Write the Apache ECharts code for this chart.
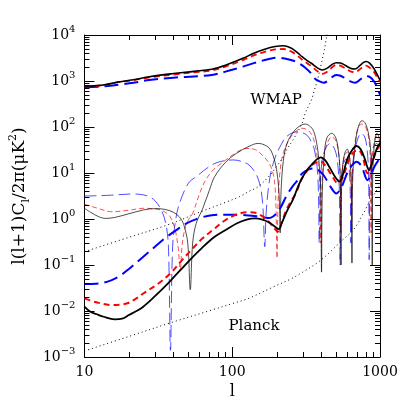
<!DOCTYPE html>
<html>
<head>
<meta charset="utf-8">
<script src="https://cdn.jsdelivr.net/npm/echarts@6/dist/echarts.min.js"></script>
<style>
html, body { margin: 0; padding: 0; background: #fff; }
#chart { width: 415px; height: 415px; }
</style>
</head>
<body>
<div id="chart"></div>
<script>
// [l, value] pairs
const ttBlack = [[10,780],[13,810],[17,950],[22,1080],[27.5,1240],[40,1450],[55,1620],[72.6,1800],[90,2200],[118,3110],[140,4000],[166,4890],[195,5600],[222,5850],[250,5200],[275,4200],[297,3370],[320,2800],[343,2430],[375,1950],[407,1740],[440,1900],[475,2300],[506,2500],[540,2450],[580,2200],[630,1900],[678,1820],[730,2150],[770,2500],[805,2650],[850,2450],[907,1900],[950,1450],[1000,1050]];
const ttRed = [[10,780],[13,800],[17,940],[22,1060],[27.5,1200],[40,1380],[55,1540],[72.6,1700],[90,2050],[118,2850],[140,3600],[166,4300],[195,4850],[222,4960],[250,4400],[275,3600],[297,2900],[320,2450],[343,2100],[375,1650],[407,1430],[440,1600],[475,2000],[506,2230],[540,2150],[580,1900],[630,1620],[678,1545],[730,1800],[770,2050],[805,2150],[850,1950],[907,1600],[950,1250],[1000,950]];
const ttBlue = [[10,730],[13,760],[17,830],[22,930],[27.5,1050],[40,1180],[55,1260],[72.6,1350],[90,1600],[118,2050],[140,2450],[166,2850],[190,3150],[206,3210],[230,3050],[260,2750],[282,2430],[312,1950],[343,1450],[360,1150],[390,980],[417,920],[450,1050],[480,1250],[506,1350],[540,1300],[580,1150],[630,980],[678,920],[740,1100],[803,1285],[860,1200],[907,1000],[950,760],[1000,500]];

const eeBlack = [[10,0.0124],[10.9,0.0097],[12,0.0086],[13.5,0.0075],[16,0.0066],[18,0.0068],[20,0.0082],[22.5,0.0100],[25,0.0124],[30,0.021],[34,0.031],[38.6,0.047],[44.7,0.078],[51.6,0.128],[62,0.23],[76,0.41],[92,0.6],[107,0.8],[125,0.97],[143,1.03],[160,0.97],[174,0.87],[190,0.72],[201,0.63],[207,0.6],[216,0.8],[235,1.5],[257,2.6],[275,4.5],[292,7.0],[320,11.5],[350,16],[375,20],[398,21.9],[425,19],[460,12.6],[500,8],[532,6.5],[560,9],[600,20],[650,32],[695,38.6],[740,33],[790,20],[843,11.6],[880,16],[920,25],[960,36],[1000,45]];
const eeRed = [[10,0.0188],[12,0.0155],[15.3,0.0135],[17.5,0.0138],[19.5,0.0147],[22,0.018],[25,0.024],[31.8,0.04],[38,0.065],[45,0.12],[54,0.23],[63,0.38],[75,0.6],[90,0.95],[107,1.25],[125,1.4],[140,1.38],[158,1.18],[180,0.82],[195,0.6],[203,0.53],[212,0.7],[235,1.7],[269,3.6],[297,7.7],[340,14],[370,17],[398,17.6],[430,14],[470,9],[519,6],[560,8],[610,18],[660,28],[713,31.6],[760,24],[824,9.8],[870,14],[920,24],[977,37],[1000,40]];
const eeBlue = [[10,0.0386],[12,0.039],[15.3,0.047],[18,0.063],[20,0.082],[24.9,0.15],[30,0.25],[35,0.38],[42,0.58],[49,0.8],[60,1.05],[72.6,1.2],[90,1.24],[118,1.22],[145,1.15],[166,1.08],[178,1.05],[190,1.15],[201,1.38],[215,1.9],[233,3.2],[257,5.2],[282,7.5],[297,9.8],[330,12],[360,12.6],[390,11],[420,8.5],[460,5.2],[506,3.6],[550,5],[600,10],[650,15],[695,17.6],[750,14],[824,7],[870,9.5],[930,15],[1000,21]];

const teBlack = [[10,1.71],[11,1.4],[12.5,1.12],[13.9,1.03],[16,1.08],[20,1.3],[25,1.57],[30,1.68],[35,1.62],[40,1.4],[44,1.1],[47,0.75],[50,0.3],[52,0.029],[54,0.3],[57,0.8],[62.7,1.6],[70,4.2],[76,8.3],[90,17],[107,26.8],[130,38],[150,44],[170,39],[182,31.6],[195,17],[203,8],[208,3],[211,0.5],[214,4],[222,19],[235,44],[260,79],[290,108],[312,116],[340,100],[360,73],[380,30],[390,12],[397,4],[402,0.07],[407,4],[420,25],[437,58],[471,73],[500,60],[520,35],[535,13],[541,4],[545,0.1],[549,4],[560,16],[580,28],[600,33],[620,24],[635,10],[642,3],[646,0.11],[650,3],[660,15],[690,60],[720,110],[755,137],[790,125],[830,80],[860,40],[875,14],[882,4],[886,0.1],[890,4],[900,18],[925,55],[952,73],[980,62],[1000,45]];
const teRed = [[10,2.1],[12,1.75],[15.3,1.44],[20,1.55],[24.9,1.71],[30,1.66],[34,1.5],[38,1.12],[41,0.6],[43,0.25],[44.5,0.08],[46,0.3],[49,0.8],[54,1.33],[60,3.5],[66,7],[75,12],[84,16],[105,27],[124,34],[140,33],[165,22],[182,14],[190,9],[195,5],[198,1.5],[201,0.14],[204,2],[210,10],[222,28],[250,62],[275,85],[297,94],[330,82],[355,55],[378,20],[392,5],[398,0.3],[404,5],[420,25],[440,45],[471,61],[500,52],[525,28],[538,8],[544,0.5],[550,6],[570,20],[600,29],[625,18],[637,5],[642,0.5],[648,5],[670,35],[710,95],[755,116],[800,100],[840,55],[862,15],[870,0.5],[876,8],[900,35],[950,62],[980,55],[1000,40]];
const teBlue = [[10,3.16],[12,3.2],[15.3,3.3],[21.6,3.5],[25,3.35],[27.5,3.06],[30,2.5],[33,1.6],[35.5,0.8],[37,0.25],[38.2,0.0014],[39.5,0.25],[41.5,1.0],[44,2.2],[50.5,6],[57,8.3],[72.6,14.9],[85,18],[102,19.2],[118,17.5],[130,14.9],[145,9.5],[155,5],[161,2],[166,0.25],[170,1.5],[180,8],[196,22.6],[215,42],[233,62],[276,79],[300,75],[327,62],[345,45],[360,32],[375,14],[383,4],[388,0.3],[393,4],[405,18],[430,35],[460,44],[495,32],[515,18],[530,5],[537,0.1],[543,5],[560,14],[590,20],[605,19],[620,11],[630,3],[635,0.3],[640,3],[660,20],[700,50],[747,73],[790,60],[820,30],[838,8],[845,0.13],[852,6],[870,18],[910,38],[952,44],[1000,30]];

const noiseWmap = [[10,0.195],[20,0.4],[36.7,0.75],[60,1.4],[90,2.3],[112,3.06],[130,4.0],[150,5.05],[180,9],[200,14],[222,22.6],[233,31.6],[260,55],[297,120],[312,199],[343,386],[360,637],[380,1150],[400,2300],[420,4800],[437,10000],[445,14000]];
const noisePlanck = [[10,0.00135],[20,0.0028],[40,0.0058],[72.6,0.0105],[100,0.0145],[130,0.019],[192,0.034],[250,0.05],[300,0.07],[350,0.095],[398,0.128],[450,0.18],[500,0.25],[558,0.35],[620,0.47],[678,0.65],[720,0.88],[747,1.12],[790,1.5],[824,2.0],[880,2.8],[952,4.3],[1000,5.5]];

// minor tick positions
const xMinorTicks = [20,30,40,50,60,70,80,90,200,300,400,500,600,700,800,900];
const yMinorTicks = [];
[0.001,0.01,0.1,1,10,100,1000].forEach(d => { for (let k = 2; k <= 9; k++) yMinorTicks.push(+(d * k).toPrecision(2)); });

const FONT = 'DejaVu Serif';
const X_MIN = 10, X_MAX = 1000, Y_MIN = 0.001, Y_MAX = 10000;

function line(data, color, width, dash, z) {
    return {
        type: 'line',
        data: data,
        symbol: 'none',
        smooth: 0.35,
        z: z,
        silent: true,
        lineStyle: { color: color, width: width, type: dash }
    };
}

// minor ticks drawn on all four sides through the axes' own scales
function tickSeries(values, vertical) {
    return {
        type: 'custom',
        silent: true,
        clip: false,
        z: 10,
        data: values.map(v => vertical ? [v, 1] : [100, v]),
        renderItem: function (params, api) {
            const st = { stroke: '#000', lineWidth: 1 };
            if (vertical) {
                const v = api.value(0);
                const b = api.coord([v, Y_MIN]), t = api.coord([v, Y_MAX]);
                const x = Math.round(b[0]) + 0.5;
                return { type: 'group', children: [
                    { type: 'line', shape: { x1: x, y1: b[1], x2: x, y2: b[1] - 5 }, style: st },
                    { type: 'line', shape: { x1: x, y1: t[1], x2: x, y2: t[1] + 5 }, style: st }
                ] };
            }
            const v = api.value(1);
            const l = api.coord([X_MIN, v]), r = api.coord([X_MAX, v]);
            const y = Math.round(l[1]) + 0.5;
            return { type: 'group', children: [
                { type: 'line', shape: { x1: l[0], y1: y, x2: l[0] + 5, y2: y }, style: st },
                { type: 'line', shape: { x1: r[0], y1: y, x2: r[0] - 5, y2: y }, style: st }
            ] };
        }
    };
}

const chart = echarts.init(document.getElementById('chart'));

const xBase = {
    type: 'log', logBase: 10, min: X_MIN, max: X_MAX,
    splitLine: { show: false },
    axisLine: { lineStyle: { color: '#000', width: 1 } },
    axisTick: { inside: true, length: 10, lineStyle: { color: '#000', width: 1 } }
};
const yBase = {
    type: 'log', logBase: 10, min: Y_MIN, max: Y_MAX, splitNumber: 7,
    splitLine: { show: false },
    axisLine: { lineStyle: { color: '#000', width: 1 } },
    axisTick: { inside: true, length: 10, lineStyle: { color: '#000', width: 1 } }
};

chart.setOption({
    animation: false,
    grid: { left: 64, right: 35, top: 35, bottom: 58 },
    xAxis: [
        Object.assign({}, xBase, {
            position: 'bottom',
            axisLabel: { color: '#000', fontFamily: FONT, fontSize: 14, margin: 8, formatter: v => String(v) },
            name: 'l', nameLocation: 'middle', nameGap: 27,
            nameTextStyle: { color: '#000', fontFamily: FONT, fontSize: 16 }
        }),
        Object.assign({}, xBase, { position: 'top', axisLabel: { show: false } })
    ],
    yAxis: [
        Object.assign({}, yBase, {
            position: 'left',
            axisLabel: {
                margin: 9,
                formatter: function (v) {
                    const e = Math.round(Math.log10(v));
                    return '{b|10}{s|' + (e < 0 ? '\u2212' + (-e) : e) + '}';
                },
                rich: {
                    b: { color: '#000', fontFamily: FONT, fontSize: 14, lineHeight: 22 },
                    s: { color: '#000', fontFamily: FONT, fontSize: 10, lineHeight: 12, verticalAlign: 'top' }
                }
            },
            name: '{a|l(l+1)C}{d|l}{a|/2\u03c0(\u03bcK}{u|2}{a|)}',
            nameLocation: 'middle', nameRotate: 90, nameGap: 37,
            nameTextStyle: {
                rich: {
                    a: { color: '#000', fontFamily: FONT, fontSize: 17, lineHeight: 24 },
                    d: { color: '#000', fontFamily: FONT, fontSize: 11, lineHeight: 12, verticalAlign: 'bottom' },
                    u: { color: '#000', fontFamily: FONT, fontSize: 11, lineHeight: 12, verticalAlign: 'top' }
                }
            }
        }),
        Object.assign({}, yBase, { position: 'right', axisLabel: { show: false } })
    ],
    graphic: [
        { type: 'text', x: 276, y: 100, silent: true,
          style: { text: 'WMAP', fill: '#000', font: '15px "DejaVu Serif"', align: 'center', verticalAlign: 'middle' } },
        { type: 'text', x: 254, y: 326, silent: true,
          style: { text: 'Planck', fill: '#000', font: '15px "DejaVu Serif"', align: 'center', verticalAlign: 'middle' } }
    ],
    series: [
        line(noiseWmap, '#000', 1, [1, 3], 1),
        line(noisePlanck, '#000', 1, [1, 3], 1),
        line(teBlue, '#0000ff', 0.7, [12, 5], 2),
        line(teRed, '#ff0000', 0.7, [5, 3], 2),
        line(teBlack, '#000', 0.7, 'solid', 2),
        line(eeBlue, '#0000ff', 2, [14, 6], 3),
        line(eeRed, '#ff0000', 2, [6, 4], 3),
        line(eeBlack, '#000', 1.8, 'solid', 3),
        line(ttBlue, '#0000ff', 2, [14, 6], 3),
        line(ttRed, '#ff0000', 1.8, [6, 4], 3),
        line(ttBlack, '#000', 1.6, 'solid', 3),
        tickSeries(xMinorTicks, true),
        tickSeries(yMinorTicks, false)
    ]
});

window.addEventListener('resize', function () {
    chart.resize();
});
</script>
</body>
</html>
